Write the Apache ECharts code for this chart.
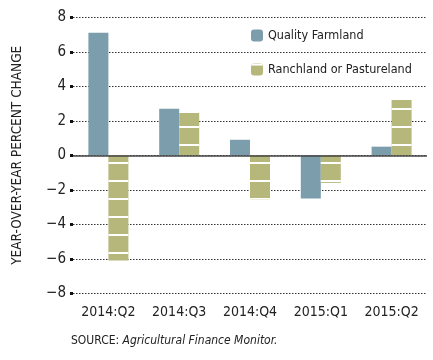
<!DOCTYPE html>
<html>
<head>
<meta charset="utf-8">
<script src="https://cdn.jsdelivr.net/npm/echarts@6/dist/echarts.min.js"></script>
<style>
  html, body { margin: 0; padding: 0; background: #fff; }
  #chart { width: 433px; height: 360px; }
</style>
</head>
<body>
<div id="chart"></div>
<script>
// Quarterly farmland values, year-over-year percent change
const quarters = ['2014:Q2', '2014:Q3', '2014:Q4', '2015:Q1', '2015:Q2'];
const qualityFarmland = [7.1, 2.7, 0.9, -2.5, 0.5];
const ranchland = [-6.1, 2.45, -2.55, -1.6, 3.2];
const yTicks = [-8, -6, -4, -2, 0, 2, 4, 6, 8];

const FONT = "'DejaVu Sans Condensed', 'Liberation Sans Narrow', sans-serif";
const TEXT = '#222';

const chart = echarts.init(document.getElementById('chart'), null, { renderer: 'canvas' });

chart.setOption({
  animation: false,
  backgroundColor: '#fff',
  grid: { left: 73, right: 6, top: 17.3, bottom: 66.7, containLabel: false },
  legend: {
    orient: 'vertical',
    left: 246,
    top: 24,
    itemWidth: 12,
    itemHeight: 12,
    itemGap: 21,
    textStyle: { fontFamily: FONT, fontSize: 12.5, color: TEXT },
    data: ['Quality Farmland', 'Ranchland or Pastureland']
  },
  xAxis: {
    type: 'category',
    data: quarters,
    axisLine: { show: false },
    axisTick: { show: false },
    axisLabel: { fontFamily: FONT, fontSize: 14, color: TEXT, margin: 12, interval: 0 }
  },
  yAxis: {
    type: 'value',
    min: yTicks[0],
    max: yTicks[yTicks.length - 1],
    interval: 2,
    name: 'YEAR-OVER-YEAR PERCENT CHANGE',
    nameLocation: 'middle',
    nameGap: 49,
    nameTextStyle: { fontFamily: FONT, fontSize: 13.5, color: TEXT },
    axisLine: { show: false },
    axisTick: { show: true, length: 3, lineStyle: { color: '#111', width: 3 } },
    axisLabel: {
      fontFamily: FONT, fontSize: 15, color: TEXT, margin: 7,
      formatter: v => String(v).replace('-', '\u2212')
    },
    splitLine: { lineStyle: { color: '#333', type: [1.5, 1.5], width: 1 } }
  },
  series: [
    {
      name: 'Quality Farmland',
      type: 'bar',
      data: qualityFarmland,
      barWidth: 20,
      barGap: '0%',
      itemStyle: { color: '#7b9dac' },
      markLine: {
        silent: true,
        symbol: 'none',
        label: { show: false },
        lineStyle: { color: '#444', type: 'solid', width: 1.5 },
        data: [{ yAxis: 0 }],
        z: 10
      }
    },
    {
      name: 'Ranchland or Pastureland',
      type: 'bar',
      data: ranchland,
      barWidth: 20,
      barGap: '0%',
      itemStyle: {
        color: '#b6b87b',
        decal: {
          symbol: 'rect',
          symbolSize: 1,
          color: '#ffffff',
          dashArrayX: [[20, 0]],
          dashArrayY: [1.5, 15.5],
          rotation: 0
        }
      }
    }
  ],
  graphic: [
    {
      type: 'text',
      left: 71,
      top: 335,
      style: {
        text: '{a|SOURCE: }{b|Agricultural Finance Monitor.}',
        rich: {
          a: { fontFamily: FONT, fontSize: 12, fill: TEXT },
          b: { fontFamily: FONT, fontSize: 12, fontStyle: 'italic', fill: TEXT }
        }
      }
    }
  ]
});
</script>
</body>
</html>
